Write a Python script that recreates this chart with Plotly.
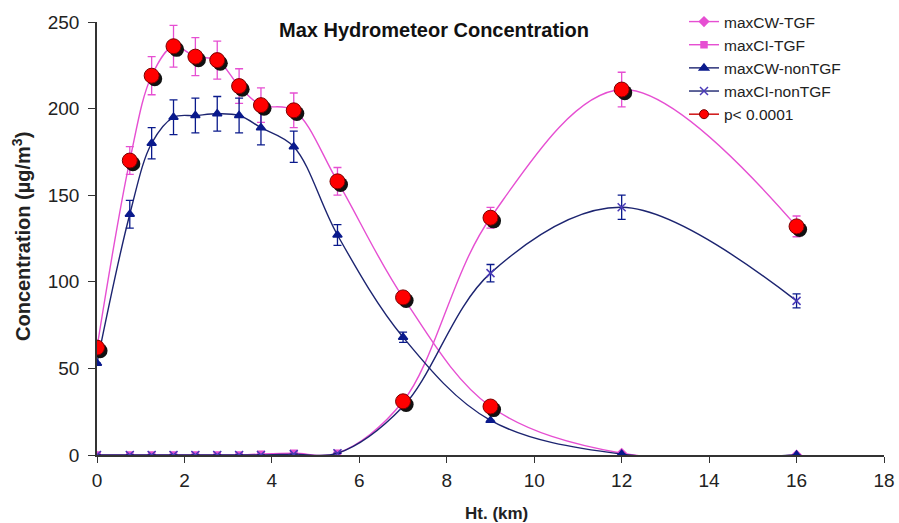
import plotly.graph_objects as go

ht = [0, 0.75, 1.25, 1.75, 2.25, 2.75, 3.25, 3.75, 4.5, 5.5, 7, 9, 12, 16]

cw_tgf = [62, 170, 219, 236, 230, 228, 213, 202, 199, 158, 91, 28, 1, 0]
cw_tgf_err = [0, 8, 11, 12, 11, 11, 10, 10, 10, 8, 3, 3, 0, 0]

ci_tgf = [0, 0, 0, 0, 0, 0, 0, 0.5, 1, 1, 31, 137, 211, 132]
ci_tgf_err = [0, 0, 0, 0, 0, 0, 0, 0, 0, 0, 2, 6, 10, 6]

cw_non = [53, 139, 180, 195, 196, 197, 196, 189, 178, 127, 68, 20, 0.5, 0]
cw_non_err = [0, 8, 9, 10, 10, 10, 10, 10, 9, 6, 3, 0, 0, 0]

ci_non = [0, 0, 0, 0, 0, 0, 0, 0, 0.5, 1, 28, 105, 143, 89]
ci_non_err = [0, 0, 0, 0, 0, 0, 0, 0, 0, 0, 0, 5, 7, 4]

p_x = [0, 0.75, 1.25, 1.75, 2.25, 2.75, 3.25, 3.75, 4.5, 5.5, 7, 9, 7, 9, 12, 16]
p_y = [62, 170, 219, 236, 230, 228, 213, 202, 199, 158, 91, 28, 31, 137, 211, 132]

x_ticks = [0, 2, 4, 6, 8, 10, 12, 14, 16, 18]
y_ticks = [0, 50, 100, 150, 200, 250]

PINK = "#e64fd2"
NAVY = "#1c2470"
BLUE = "#0a1a8c"

W, H = 899, 523
L, R, T, B = 97, 15, 22, 68
PW, PH = W - L - R, H - T - B


def px(sx):
    return (sx - L) / PW


def py(sy):
    return (H - B - sy) / PH


fig = go.Figure()


def series(name, y, err, lcolor, mcolor, symbol, size, ecolor):
    fig.add_trace(go.Scatter(
        x=ht, y=y, name=name, mode="lines+markers",
        line=dict(color=lcolor, width=1.4, shape="spline", smoothing=1),
        marker=dict(symbol=symbol, size=size, color=mcolor,
                    line=dict(color=mcolor, width=1.5)),
        error_y=dict(type="data", array=err, visible=True, color=ecolor,
                     thickness=1.3, width=4),
    ))


series("maxCW-TGF", cw_tgf, cw_tgf_err, PINK, PINK, "diamond", 7, PINK)
series("maxCI-TGF", ci_tgf, ci_tgf_err, PINK, PINK, "square", 6, PINK)
series("maxCW-nonTGF", cw_non, cw_non_err, NAVY, BLUE, "triangle-up", 8, BLUE)
series("maxCI-nonTGF", ci_non, ci_non_err, NAVY, "#4a3ab8", "x-thin-open", 8, BLUE)

# shadow of the p-value circles (drawn on shifted overlay axes)
fig.add_trace(go.Scatter(
    x=p_x, y=p_y, mode="markers", showlegend=False, hoverinfo="skip",
    marker=dict(symbol="circle", size=15, color="#111111"),
    xaxis="x2", yaxis="y2",
))
# red circles on an overlay with the same scale, drawn above the shadow
fig.add_trace(go.Scatter(
    x=p_x, y=p_y, name="p< 0.0001", mode="markers", showlegend=False,
    marker=dict(symbol="circle", size=15, color="#ff0000",
                line=dict(color="#7a0000", width=1)),
    xaxis="x3", yaxis="y3",
))
# legend entry for the p-value markers (line + marker, as in the original key)
fig.add_trace(go.Scatter(
    x=[None], y=[None], name="p< 0.0001", mode="lines+markers",
    line=dict(color="#cc0000", width=1.4),
    marker=dict(symbol="circle", size=9, color="#ff0000",
                line=dict(color="#7a0000", width=1)),
))

fig.update_layout(
    width=W, height=H,
    margin=dict(l=L, r=R, t=T, b=B, autoexpand=False),
    paper_bgcolor="white", plot_bgcolor="white",
    font=dict(family="Liberation Sans, Arial", size=18, color="#222222"),
    showlegend=True,
    legend=dict(x=px(684), y=py(5),
                xanchor="left", yanchor="top",
                bgcolor="rgba(0,0,0,0)", font=dict(size=15.5, color="#222222"),
                tracegroupgap=0, itemsizing="trace"),
    xaxis=dict(range=[0, 18], tickvals=x_ticks, showgrid=False, zeroline=False,
               showline=True, linecolor="#333333", linewidth=1.5, automargin=False,
               ticks="outside", ticklen=6, tickcolor="#333333",
               tickfont=dict(size=19), ticklabelstandoff=1),
    yaxis=dict(range=[0, 250], tickvals=y_ticks, showgrid=False, zeroline=False,
               showline=True, linecolor="#333333", linewidth=1.5, automargin=False,
               ticks="outside", ticklen=7, tickcolor="#333333",
               tickfont=dict(size=19), ticklabelstandoff=5),
    xaxis2=dict(range=[-0.07, 17.93], overlaying="x", visible=False),
    yaxis2=dict(range=[1.8, 251.8], overlaying="y", visible=False),
    xaxis3=dict(range=[0, 18], overlaying="x", visible=False),
    yaxis3=dict(range=[0, 250], overlaying="y", visible=False),
    annotations=[
        dict(text="<b>Max Hydrometeor Concentration</b>", x=px(434), y=py(30),
             xref="paper", yref="paper", showarrow=False,
             font=dict(size=20, color="#111111"), xanchor="center", yanchor="middle"),
        dict(text="<b>Ht. (km)</b>", x=px(496), y=py(513),
             xref="paper", yref="paper", showarrow=False,
             font=dict(size=17, color="#222222"), xanchor="center", yanchor="middle"),
        dict(text="<b>Concentration (µg/m<sup>3</sup>)</b>", x=px(21), y=py(237),
             xref="paper", yref="paper", showarrow=False, textangle=-90,
             font=dict(size=20, color="#222222"), xanchor="center", yanchor="middle"),
    ],
)

fig.write_html(
    "out.html",
    config={"displayModeBar": False},
    post_script="document.body.style.margin='0';document.body.style.overflow='hidden';",
)
